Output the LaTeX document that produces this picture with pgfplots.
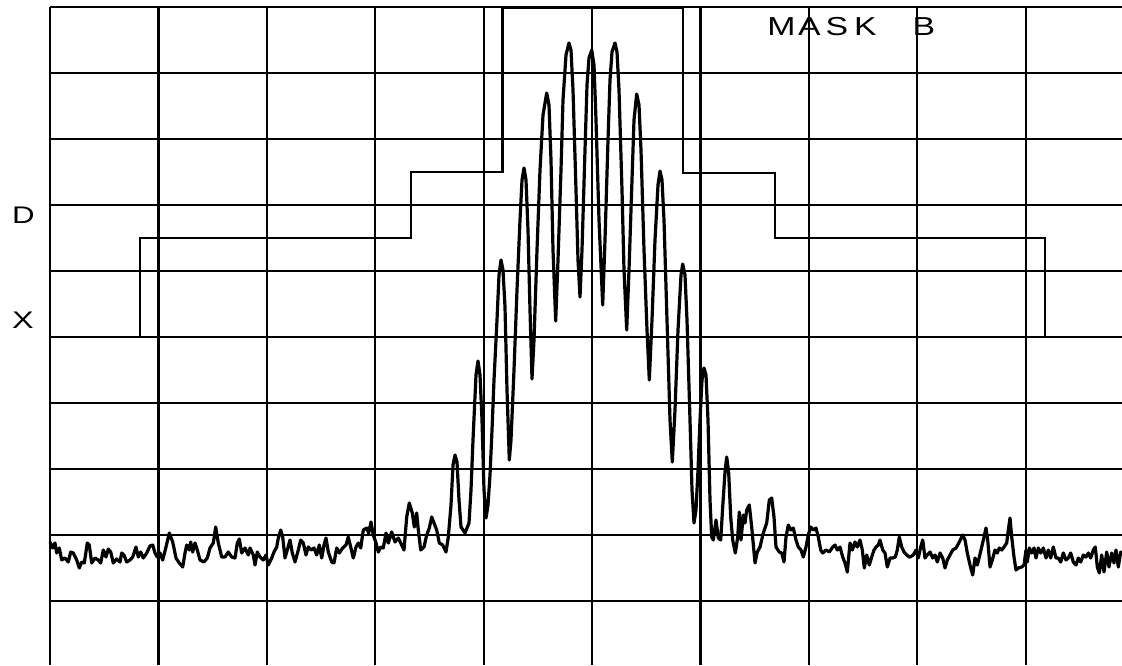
\documentclass[border=0pt]{standalone}
\usepackage{pgfplots}
\pgfplotsset{compat=1.18}
\usepackage{fontspec}
\setmainfont{Liberation Sans}
\begin{document}
\begin{tikzpicture}
\useasboundingbox (-50pt,0pt) rectangle (1072pt,665pt);
\begin{axis}[
  scale only axis, width=1072pt, height=658pt,
  anchor=south west, at={(0pt,0pt)},
  xmin=50, xmax=1122, ymin=7, ymax=665, y dir=reverse,
  axis line style={draw=none},
  xtick={50,158.4,266.8,375.2,483.6,592,700.4,808.8,917.2,1025.6},
  ytick={7,73,139,205,271,337,403,469,535,601},
  xticklabels={}, yticklabels={},
  major tick length=0pt,
  grid=major,
  grid style={black, line width=2.2pt},
  clip=false,
]
% mask B
\addplot[black, line width=2.6pt, line join=miter] coordinates {
(50,337)(140,337)(140,238)(411,238)(411,172)(502.7,172)(502.7,8)
(683,8)(683,173)(775,173)(775,238)(1045,238)(1045,337)(1122,337)};
% measured spectrum
\addplot[black, line width=3.2pt, line join=round] coordinates {
(50,542)(52.7,548)(55,543)(56.7,553)(59.3,548)(61.7,560)(65,558)(68.3,562)(70.7,552)(73.3,553)(76.7,560)(79.3,568)(81.7,562)(84.3,563)(87.3,543)(89.3,545)(91.7,563)(95,558)(98.3,560)(100.7,563)(103.3,550)(106,557)(108.3,549)(110.7,552)(113.3,563)(116.7,559)(120,562)(121.7,553)(124,555)(126.7,562)(130,560)(132.7,557)(136,547)(138.3,557)(140.7,552)(143.3,558)(146.7,553)(150,546)(152.7,545)(155,553)(157.3,557)(160,553)(162.7,560)(166,547)(169.3,533)(172.7,542)(176,558)(179.3,563)(182.7,567)(185,553)(186.7,545)(189.3,550)(190.7,542)(192.7,552)(195,543)(197.3,550)(200,560)(204,562)(207.3,558)(210,548)(213.3,543)(215.7,527)(218.3,543)(221.7,557)(225,557)(228.3,552)(231.7,557)(235,558)(237.3,543)(239.3,539)(241.7,553)(245,548)(248.3,555)
(250,548)(253.3,555)(255,565)(257.3,552)(260,557)(263.3,560)(266,555)(268.3,565)(271.7,558)(274,552)(276.7,547)(278.3,538)(280.7,530)(282.7,537)(285,558)(287.3,550)(290,540)(292.3,553)(295,562)(298.3,550)(300.7,540)(303.3,543)(306,555)(308.3,547)(311,550)(314,548)(316.7,555)(319.3,545)(321.7,558)(324,545)(326,538)(328.3,552)(331.7,562)(334,563)(336.7,548)(339.3,553)(342.7,548)(346,545)(348.3,537)(350.7,547)(353.3,558)(356,547)(358.3,543)(360.7,548)(363.3,530)(366.7,528)(368.7,533)(371,522)(373.3,535)(376,543)(378.3,552)(380.7,547)(383.3,548)(386,533)(388.3,543)(391.7,532)(395,542)(398.3,538)(400.7,543)(404,550)(406.7,517)(409.3,503)(412.3,513)(414.3,527)(416.7,513)(418.3,530)(420.7,550)(424,547)(426.7,535)(429.3,528)(431.7,517)(434,523)(436.7,530)(439.3,543)(442.7,545)(446,552)(448.3,537)
(451,505)(453,465)(455,455)(457,462)(459,500)(461,527)(465,533)(469,523)(471,490)(473,440)(476,375)(478,361)(480,375)(482,420)(484,490)(486,518)(488,505)(490,475)(492,430)(494,380)(497,320)(499,275)(501,260)(503,270)(505,307)(507,390)(509.3,460)(511,440)(514,370)(517,290)(520,220)(522,180)(524,168)(526,180)(528,230)(530,310)(532,379)(534,340)(537,250)(540,170)(543,115)(546.7,93)(549,105)(551,160)(553,250)(555.7,321)(558,260)(561,170)(563,100)(566,55)(569,43)(571,50)(573,90)(576,190)(578,260)(580,297)(582,250)(585,150)(587,85)(589,58)(591.7,50)(594,65)(596,120)(599,220)(602.7,305)(605,240)(608,140)(610,80)(612,52)(615,43)(617,52)(619,90)(622,190)(624,270)(626.7,330)(629,270)(632,180)(634,120)(636.7,94)(639,105)(641,150)(644,250)(647,330)(649.3,380)(652,320)(655,240)(658,185)(660,171)(662,180)(664,220)(667,320)(670,420)(672.3,462)(675,410)(678,330)(681,275)(682.7,264)(685,275)(687,320)(690,420)(692,490)(694,523)(696,510)(698,470)(700,420)(702,380)(704,368)(706,375)(708,420)(710,500)
(711.7,537)(713.3,540)(716,520)(718.3,538)(720.7,540)(722.7,507)(725,472)(726.7,457)(728.7,473)(730.7,517)(732.7,540)(735.3,553)(737.7,537)(739.3,512)(741,540)(743.3,515)(745,523)(746.7,510)(749.3,505)(751.7,527)(755,563)(757.3,552)(760,547)(763.3,533)(766.7,523)(769.3,500)(771.7,498)(774,517)(776,547)(779.3,552)(781.7,553)(784,562)(786,537)(788.3,525)(790.7,530)(793.3,528)(796,540)(798.3,547)(801,550)(803.3,557)(806,547)(808.3,535)(810.7,527)(813.3,530)(816,528)(818.3,537)(820.7,550)(822.7,553)(826,550)(829.3,552)(832.7,547)(835,545)(837.3,550)(840,547)(842.7,557)(845,563)(847.3,572)(850,543)(852.3,550)(855,542)(857.3,547)(860,540)(862.3,550)(864.3,568)(866.7,555)(869.3,565)(871.7,557)(874,550)(876,547)(878.3,545)(880,540)(882.7,550)(885,553)(887.3,567)(890,558)(892.7,558)(895.3,557)(897.3,550)(899.3,537)(901.7,547)(904,552)(906.7,555)(909.3,557)
(910,557)(913.3,555)(916,550)(918.3,558)(920.7,547)(922.7,540)(925,558)(927.3,555)(930,552)(932.7,558)(935,555)(937.3,562)(940,553)(942.7,558)(945,568)(947.3,560)(950,555)(952.7,550)(956,548)(959.3,542)(962.7,535)(965,540)(967.3,553)(970,565)(972.7,575)(975,558)(977.3,565)(979.3,557)(981.7,547)(984,537)(986,528)(987.7,540)(990,567)(992.3,560)(995,550)(997.3,553)(999.3,548)(1001.7,550)(1004,547)(1006.7,543)(1008.3,530)(1010,518)(1011.7,537)(1014,557)(1016,570)(1018.3,568)(1021.7,567)(1024,565)(1026,550)(1027.3,562)(1029.3,548)(1031.7,553)(1034,548)(1036,558)(1038.3,548)(1040.7,553)(1043.3,548)(1046,558)(1048.3,550)(1050.7,558)(1053.3,547)(1056,558)(1058.3,558)(1060.7,562)(1063.3,553)(1066,560)(1068.3,558)(1070.7,553)(1073.3,562)(1076,565)(1078.3,558)(1080.7,562)(1083.3,555)(1086,557)(1088.3,553)(1090.7,558)(1093.3,550)(1095.3,547)(1097.3,567)(1099.3,573)(1101.7,555)(1104,572)(1106.7,552)(1109,567)(1111.7,553)(1114,563)(1116,550)(1118.3,567)(1120.7,552)(1122,555)};
% labels
\node[font=\fontsize{24}{24}\selectfont] at (axis cs:23.5,215.5) {\scalebox{1.3}[1]{D}};
\node[font=\fontsize{24}{24}\selectfont] at (axis cs:23,320) {\scalebox{1.35}[1]{X}};
\node[font=\fontsize{26}{26}\selectfont] at (axis cs:781.5,26.5) {\scalebox{1.3}[1]{M}};
\node[font=\fontsize{26}{26}\selectfont] at (axis cs:809.5,26.5) {\scalebox{1.3}[1]{A}};
\node[font=\fontsize{26}{26}\selectfont] at (axis cs:837,26.5) {\scalebox{1.3}[1]{S}};
\node[font=\fontsize{26}{26}\selectfont] at (axis cs:865.5,26.5) {\scalebox{1.3}[1]{K}};
\node[font=\fontsize{26}{26}\selectfont] at (axis cs:924,26.5) {\scalebox{1.3}[1]{B}};
\end{axis}
\end{tikzpicture}
\end{document}
